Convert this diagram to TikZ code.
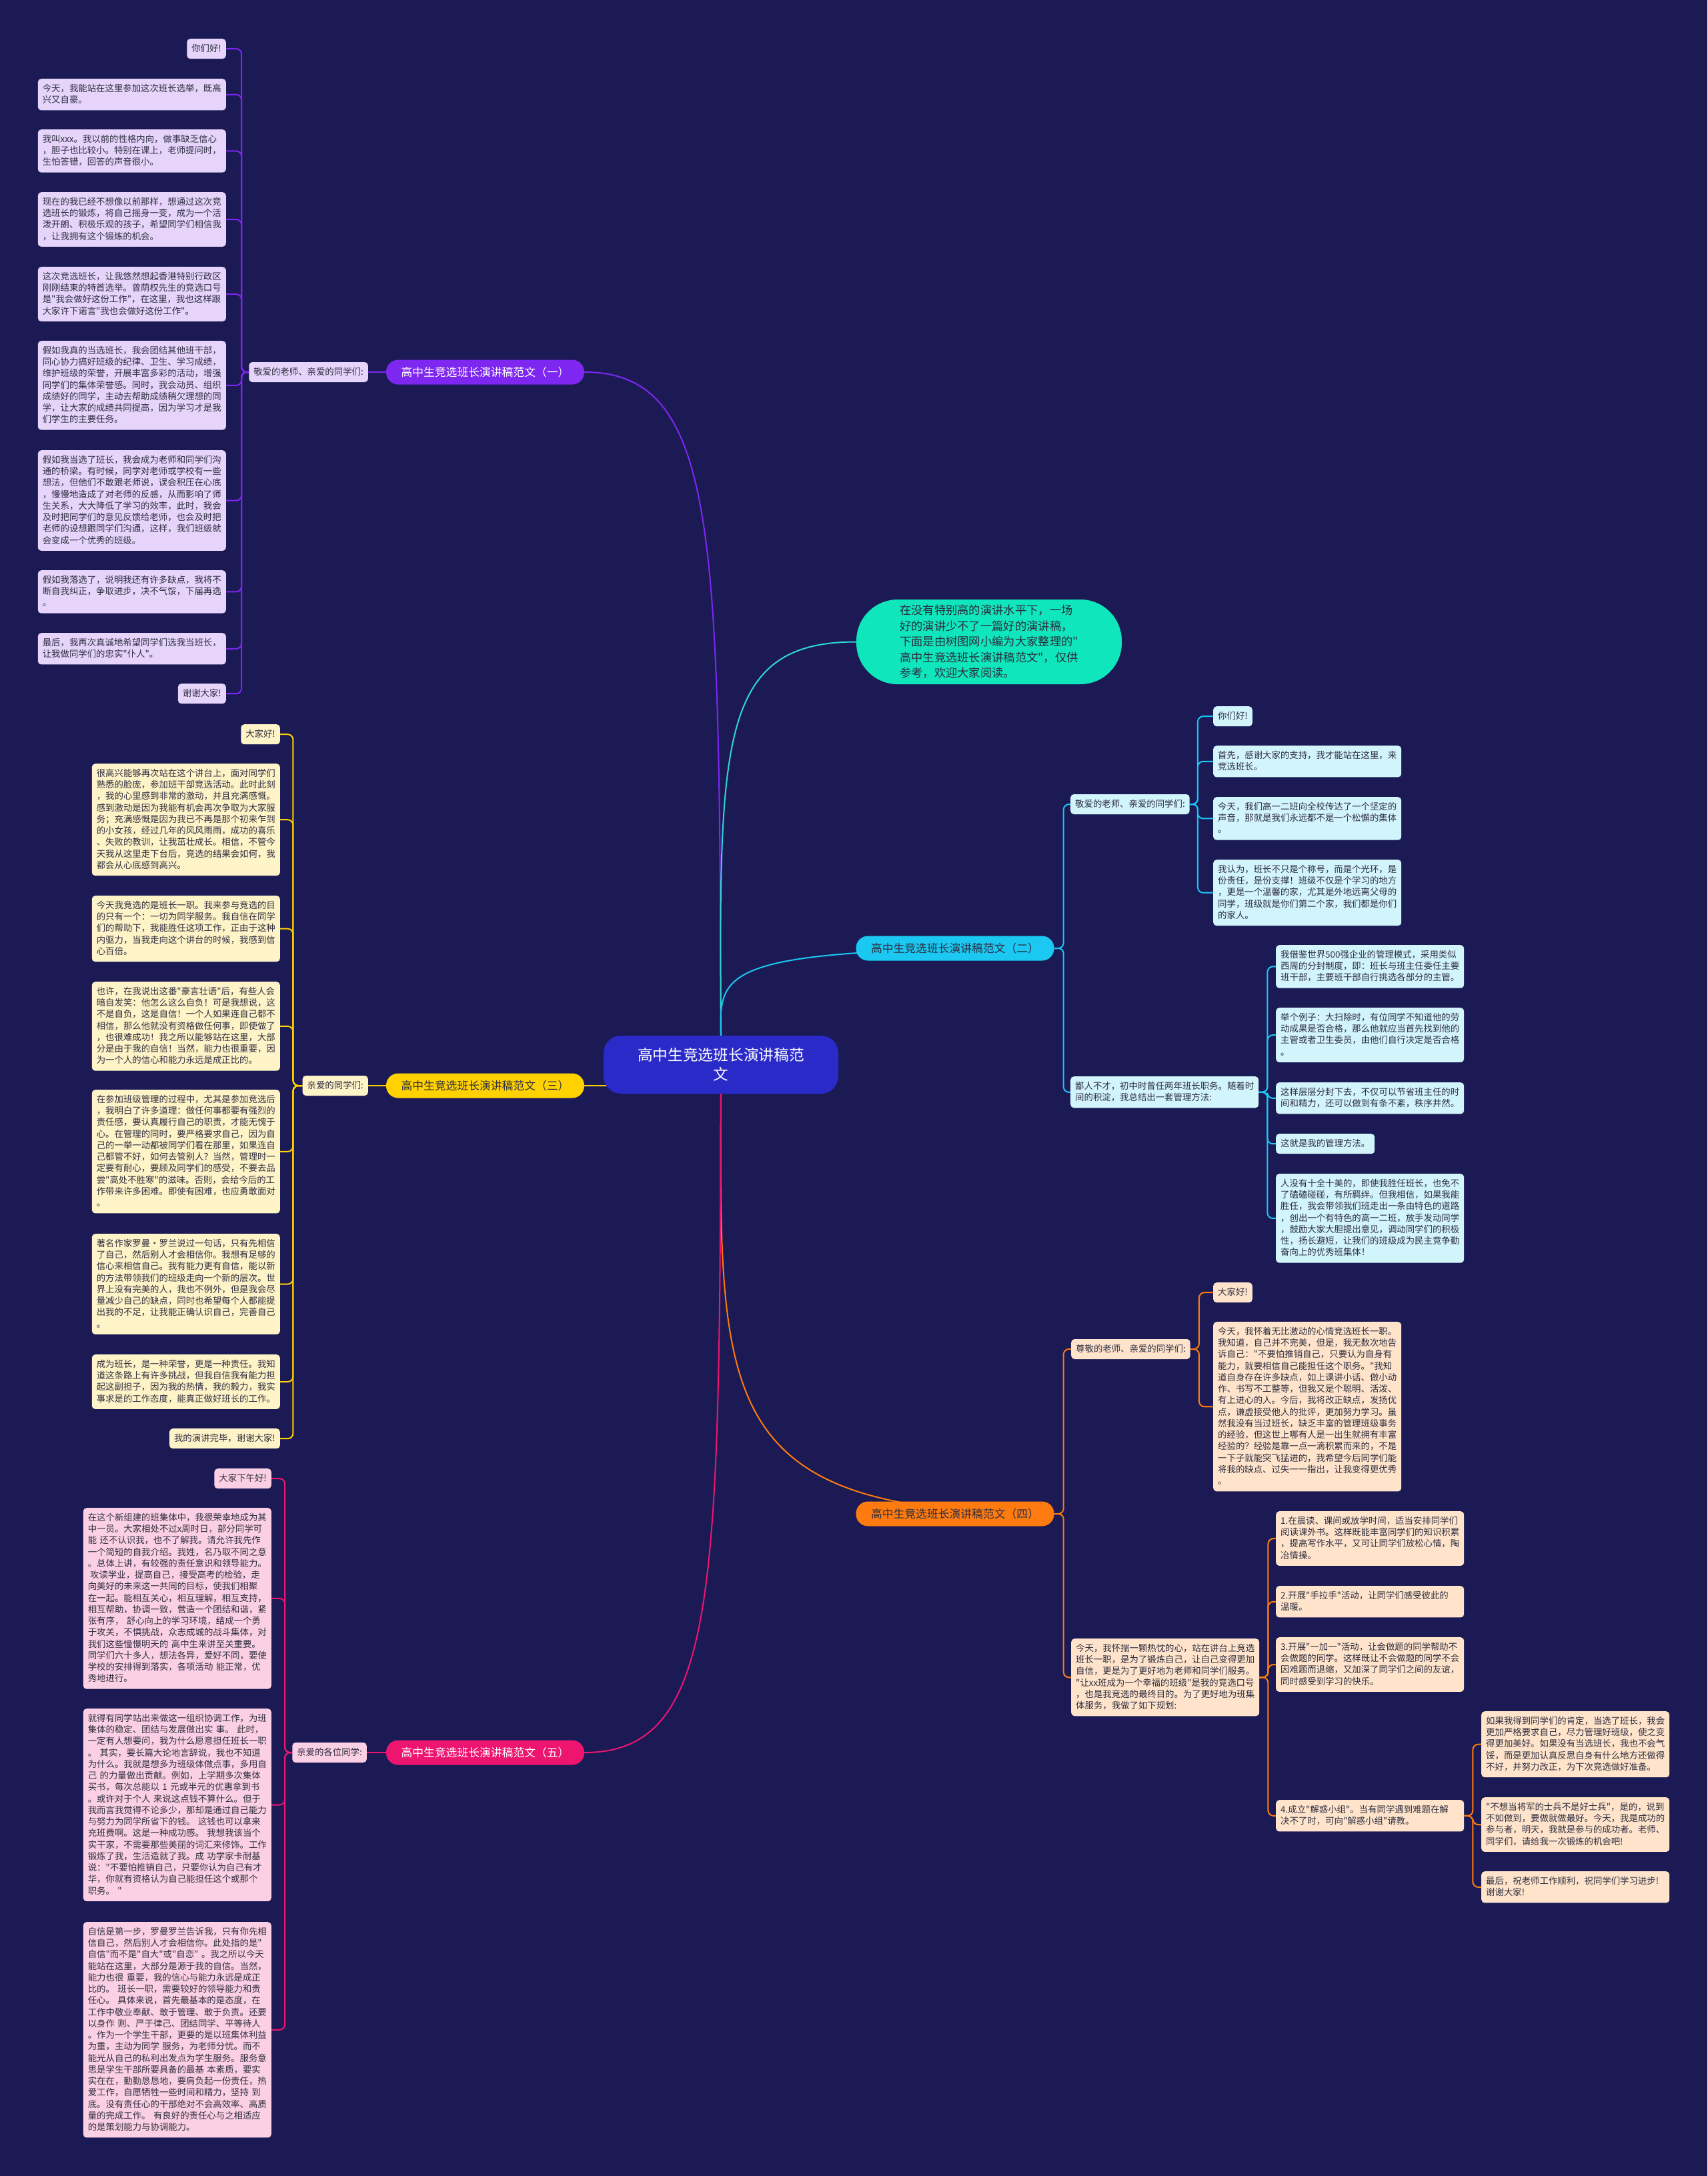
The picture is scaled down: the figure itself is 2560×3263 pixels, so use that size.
\documentclass[tikz,border=0pt]{standalone}
\usepackage{fontspec}
\newfontfamily\cjk{Noto Sans CJK SC}
\usetikzlibrary{backgrounds}
\definecolor{bgc}{HTML}{1B1A55}
\definecolor{tdark}{HTML}{2E2E40}
\definecolor{rootc}{HTML}{2A2AC8}
\definecolor{mint}{HTML}{0FE6BB}
\definecolor{mintl}{HTML}{2FD8D0}
\definecolor{cpa}{HTML}{7D27F0}
\definecolor{cpl}{HTML}{E6D4FA}
\definecolor{cya}{HTML}{1BC8F2}
\definecolor{cyl}{HTML}{D2F4FB}
\definecolor{yea}{HTML}{FFD200}
\definecolor{yel}{HTML}{FFF3C8}
\definecolor{ora}{HTML}{FF7B0F}
\definecolor{orl}{HTML}{FFE4CB}
\definecolor{pka}{HTML}{EE1570}
\definecolor{pkl}{HTML}{FCD0E4}
\newcommand\lfont{\cjk\fontsize{13.4}{17.25}\selectfont}
\newcommand\bfont{\cjk\fontsize{16.8}{20}\selectfont}
\newcommand\rfont{\cjk\fontsize{22.7}{29}\selectfont}
\newcommand\ifont{\cjk\fontsize{17.3}{23.5}\selectfont}
\tikzset{
  box/.style={fill=#1, rounded corners=5pt, align=left, inner xsep=7pt, inner ysep=7.75pt,
    font=\lfont, text=tdark,
    execute at begin node={\noindent\rule{0pt}{11.5pt}},
    execute at end node={\rule[-3pt]{0pt}{3pt}}},
  wbox/.style={box=#1, text width=268pt},
  conn/.style={draw=#1, line width=2pt, rounded corners=8pt},
  br/.style={fill=#1, rounded corners=18pt, minimum width=297pt, minimum height=37pt,
    inner xsep=4pt, inner ysep=0pt, font=\bfont},
}
\begin{document}
\begin{tikzpicture}[x=1pt,y=-1pt]
\useasboundingbox (0,0) rectangle (2560,3263);

% ---------- root and intro ----------
\node[fill=rootc, rounded corners=26pt, minimum width=352pt, minimum height=87pt,
  text=white, font=\rfont, align=center, inner sep=0pt] (root) at (1081,1596.5)
  {高中生竞选班长演讲稿范\\文};
\node[fill=mint, rounded corners=62pt, minimum width=398pt, minimum height=127pt,
  align=left, font=\ifont, text=tdark, inner sep=0pt] (intro) at (1483,962.5)
  {在没有特别高的演讲水平下，一场\\好的演讲少不了一篇好的演讲稿，\\下面是由树图网小编为大家整理的"\\高中生竞选班长演讲稿范文"，仅供\\参考，欢迎大家阅读。};

% ---------- branch 1 ----------
\node[br=cpa, text=white] (b1) at (727.5,558) {高中生竞选班长演讲稿范文（一）};
\node[box=cpl, anchor=east] (l1) at (552,558) {敬爱的老师、亲爱的同学们:};
\node[box=cpl, anchor=north east] (a1) at (339,58) {你们好!};
\node[wbox=cpl, anchor=north east] (a2) at (339,118) {今天，我能站在这里参加这次班长选举，既高\\兴又自豪。};
\node[wbox=cpl, anchor=north east] (a3) at (339,194) {我叫xxx。我以前的性格内向，做事缺乏信心\\，胆子也比较小。特别在课上，老师提问时，\\生怕答错，回答的声音很小。};
\node[wbox=cpl, anchor=north east] (a4) at (339,288) {现在的我已经不想像以前那样，想通过这次竞\\选班长的锻炼，将自己摇身一变，成为一个活\\泼开朗、积极乐观的孩子，希望同学们相信我\\，让我拥有这个锻炼的机会。};
\node[wbox=cpl, anchor=north east] (a5) at (339,400) {这次竞选班长，让我悠然想起香港特别行政区\\刚刚结束的特首选举。曾荫权先生的竞选口号\\是"我会做好这份工作"，在这里，我也这样跟\\大家许下诺言"我也会做好这份工作"。};
\node[wbox=cpl, anchor=north east] (a6) at (339,511) {假如我真的当选班长，我会团结其他班干部，\\同心协力搞好班级的纪律、卫生、学习成绩，\\维护班级的荣誉，开展丰富多彩的活动，增强\\同学们的集体荣誉感。同时，我会动员、组织\\成绩好的同学，主动去帮助成绩稍欠理想的同\\学，让大家的成绩共同提高，因为学习才是我\\们学生的主要任务。};
\node[wbox=cpl, anchor=north east] (a7) at (339,675) {假如我当选了班长，我会成为老师和同学们沟\\通的桥梁。有时候，同学对老师或学校有一些\\想法，但他们不敢跟老师说，误会积压在心底\\，慢慢地造成了对老师的反感，从而影响了师\\生关系，大大降低了学习的效率，此时，我会\\及时把同学们的意见反馈给老师，也会及时把\\老师的设想跟同学们沟通，这样，我们班级就\\会变成一个优秀的班级。};
\node[wbox=cpl, anchor=north east] (a8) at (339,855) {假如我落选了，说明我还有许多缺点，我将不\\断自我纠正，争取进步，决不气馁，下届再选\\。};
\node[wbox=cpl, anchor=north east] (a9) at (339,949) {最后，我再次真诚地希望同学们选我当班长，\\让我做同学们的忠实"仆人"。};
\node[box=cpl, anchor=north east] (a10) at (339,1025) {谢谢大家!};

% ---------- branch 3 ----------
\node[br=yea, text=tdark] (b3) at (727.5,1628) {高中生竞选班长演讲稿范文（三）};
\node[box=yel, anchor=east] (l3) at (552,1628) {亲爱的同学们:};
\node[box=yel, anchor=north east] (c1) at (420,1086) {大家好!};
\node[wbox=yel, anchor=north east] (c2) at (420,1145) {很高兴能够再次站在这个讲台上，面对同学们\\熟悉的脸庞，参加班干部竞选活动。此时此刻\\，我的心里感到非常的激动，并且充满感慨。\\感到激动是因为我能有机会再次争取为大家服\\务；充满感慨是因为我已不再是那个初来乍到\\的小女孩，经过几年的风风雨雨，成功的喜乐\\、失败的教训，让我茁壮成长。相信，不管今\\天我从这里走下台后，竞选的结果会如何，我\\都会从心底感到高兴。};
\node[wbox=yel, anchor=north east] (c3) at (420,1343) {今天我竞选的是班长一职。我来参与竞选的目\\的只有一个：一切为同学服务。我自信在同学\\们的帮助下，我能胜任这项工作，正由于这种\\内驱力，当我走向这个讲台的时候，我感到信\\心百倍。};
\node[wbox=yel, anchor=north east] (c4) at (420,1472) {也许，在我说出这番"豪言壮语"后，有些人会\\暗自发笑：他怎么这么自负！可是我想说，这\\不是自负，这是自信！一个人如果连自己都不\\相信，那么他就没有资格做任何事，即使做了\\，也很难成功！我之所以能够站在这里，大部\\分是由于我的自信！当然，能力也很重要，因\\为一个人的信心和能力永远是成正比的。};
\node[wbox=yel, anchor=north east] (c5) at (420,1634) {在参加班级管理的过程中，尤其是参加竞选后\\，我明白了许多道理：做任何事都要有强烈的\\责任感，要认真履行自己的职责，才能无愧于\\心。在管理的同时，要严格要求自己，因为自\\己的一举一动都被同学们看在那里，如果连自\\己都管不好，如何去管别人？当然，管理时一\\定要有耐心，要顾及同学们的感受，不要去品\\尝"高处不胜寒"的滋味。否则，会给今后的工\\作带来许多困难。即使有困难，也应勇敢面对\\。};
\node[wbox=yel, anchor=north east] (c6) at (420,1850) {著名作家罗曼·罗兰说过一句话，只有先相信\\了自己，然后别人才会相信你。我想有足够的\\信心来相信自己。我有能力更有自信，能以新\\的方法带领我们的班级走向一个新的层次。世\\界上没有完美的人，我也不例外，但是我会尽\\量减少自己的缺点，同时也希望每个人都能提\\出我的不足，让我能正确认识自己，完善自己\\。};
\node[wbox=yel, anchor=north east] (c7) at (420,2031) {成为班长，是一种荣誉，更是一种责任。我知\\道这条路上有许多挑战，但我自信我有能力担\\起这副担子，因为我的热情，我的毅力，我实\\事求是的工作态度，能真正做好班长的工作。};
\node[box=yel, anchor=north east] (c8) at (420,2142) {我的演讲完毕，谢谢大家!};

% ---------- branch 5 ----------
\node[br=pka, text=white] (b5) at (727.5,2628) {高中生竞选班长演讲稿范文（五）};
\node[box=pkl, anchor=east] (l5) at (550,2628) {亲爱的各位同学:};
\node[box=pkl, anchor=north east] (f1) at (407,2202) {大家下午好!};
\node[wbox=pkl, anchor=north east] (f2) at (407,2261) {在这个新组建的班集体中，我很荣幸地成为其\\中一员。大家相处不过x周时日，部分同学可\\能~还不认识我，也不了解我。请允许我先作\\一个简短的自我介绍。我姓，名乃取不同之意\\。总体上讲，有较强的责任意识和领导能力。\\\hspace*{0.25em}攻读学业，提高自己，接受高考的检验，走\\向美好的未来这一共同的目标，使我们相聚\\在一起。能相互关心，相互理解，相互支持，\\相互帮助，协调一致，营造一个团结和谐，紧\\张有序，~舒心向上的学习环境，结成一个勇\\于攻关，不惧挑战，众志成城的战斗集体，对\\我们这些憧憬明天的~高中生来讲至关重要。\\同学们六十多人，想法各异，爱好不同，要使\\学校的安排得到落实，各项活动~能正常，优\\秀地进行。};
\node[wbox=pkl, anchor=north east] (f3) at (407,2562) {就得有同学站出来做这一组织协调工作，为班\\集体的稳定、团结与发展做出实~事。~此时，\\一定有人想要问，我为什么愿意担任班长一职\\。~其实，要长篇大论地言辞说，我也不知道\\为什么。我就是想多为班级体做点事，多用自\\己~的力量做出贡献。例如，上学期多次集体\\买书，每次总能以~1~元或半元的优惠拿到书\\。或许对于个人~来说这点钱不算什么。但于\\我而言我觉得不论多少，那却是通过自己能力\\与努力为同学所省下的钱。~这钱也可以拿来\\充班费啊。这是一种成功感。~我想我该当个\\实干家，不需要那些美丽的词汇来修饰。工作\\锻炼了我，生活造就了我。成~功学家卡耐基\\说："不要怕推销自己，只要你认为自己有才\\华，你就有资格认为自己能担任这个或那个\\职务。~"};
\node[wbox=pkl, anchor=north east] (f4) at (407,2882) {自信是第一步，罗曼罗兰告诉我，只有你先相\\信自己，然后别人才会相信你。此处指的是"\\自信"而不是"自大"或"自恋"~。我之所以今天\\能站在这里，大部分是源于我的自信。当然，\\能力也很~重要，我的信心与能力永远是成正\\比的。~班长一职，需要较好的领导能力和责\\任心。~具体来说，首先最基本的是态度，在\\工作中敬业奉献、敢于管理、敢于负责。还要\\以身作~则、严于律己、团结同学、平等待人\\。作为一个学生干部，更要的是以班集体利益\\为重，主动为同学~服务，为老师分忧。而不\\能光从自己的私利出发点为学生服务。服务意\\思是学生干部所要具备的最基~本素质，要实\\实在在，勤勤恳恳地，要肩负起一份责任，热\\爱工作，自愿牺牲一些时间和精力，坚持~到\\底。没有责任心的干部绝对不会高效率、高质\\量的完成工作。~有良好的责任心与之相适应\\的是策划能力与协调能力。};

% ---------- branch 2 ----------
\node[br=cya, text=tdark] (b2) at (1432,1422) {高中生竞选班长演讲稿范文（二）};
\node[box=cyl, anchor=west] (s21) at (1605,1206) {敬爱的老师、亲爱的同学们:};
\node[box=cyl, anchor=north west] (s22) at (1605,1614) {鄙人不才，初中时曾任两年班长职务。随着时\\间的积淀，我总结出一套管理方法:};
\node[box=cyl, anchor=north west] (d1) at (1819,1059) {你们好!};
\node[wbox=cyl, anchor=north west] (d2) at (1819,1118) {首先，感谢大家的支持，我才能站在这里，来\\竞选班长。};
\node[wbox=cyl, anchor=north west] (d3) at (1819,1195) {今天，我们高一二班向全校传达了一个坚定的\\声音，那就是我们永远都不是一个松懈的集体\\。};
\node[wbox=cyl, anchor=north west] (d4) at (1819,1289) {我认为，班长不只是个称号，而是个光环，是\\份责任，是份支撑！班级不仅是个学习的地方\\，更是一个温馨的家，尤其是外地远离父母的\\同学，班级就是你们第二个家，我们都是你们\\的家人。};
\node[wbox=cyl, anchor=north west] (e1) at (1913,1417) {我借鉴世界500强企业的管理模式，采用类似\\西周的分封制度，即：班长与班主任委任主要\\班干部，主要班干部自行挑选各部分的主管。};
\node[wbox=cyl, anchor=north west] (e2) at (1913,1511) {举个例子：大扫除时，有位同学不知道他的劳\\动成果是否合格，那么他就应当首先找到他的\\主管或者卫生委员，由他们自行决定是否合格\\。};
\node[wbox=cyl, anchor=north west] (e3) at (1913,1623) {这样层层分封下去，不仅可以节省班主任的时\\间和精力，还可以做到有条不紊，秩序井然。};
\node[box=cyl, anchor=north west] (e4) at (1913,1700) {这就是我的管理方法。};
\node[wbox=cyl, anchor=north west] (e5) at (1913,1760) {人没有十全十美的，即使我胜任班长，也免不\\了磕磕碰碰，有所羁绊。但我相信，如果我能\\胜任，我会带领我们班走出一条由特色的道路\\，创出一个有特色的高一二班，放手发动同学\\，鼓励大家大胆提出意见，调动同学们的积极\\性，扬长避短，让我们的班级成为民主竞争勤\\奋向上的优秀班集体！};

% ---------- branch 4 ----------
\node[br=ora, text=tdark] (b4) at (1432,2270) {高中生竞选班长演讲稿范文（四）};
\node[box=orl, anchor=west] (s41) at (1606,2023) {尊敬的老师、亲爱的同学们:};
\node[box=orl, anchor=north west] (s42) at (1606,2457) {今天，我怀揣一颗热忱的心，站在讲台上竞选\\班长一职，是为了锻炼自己，让自己变得更加\\自信，更是为了更好地为老师和同学们服务。\\"让xx班成为一个幸福的班级"是我的竞选口号\\，也是我竞选的最终目的。为了更好地为班集\\体服务，我做了如下规划:};
\node[box=orl, anchor=north west] (g0) at (1819,1923) {大家好!};
\node[wbox=orl, anchor=north west] (g00) at (1819,1982) {今天，我怀着无比激动的心情竞选班长一职。\\我知道，自己并不完美，但是，我无数次地告\\诉自己："不要怕推销自己，只要认为自身有\\能力，就要相信自己能担任这个职务。"我知\\道自身存在许多缺点，如上课讲小话、做小动\\作、书写不工整等，但我又是个聪明、活泼、\\有上进心的人。今后，我将改正缺点，发扬优\\点，谦虚接受他人的批评，更加努力学习。虽\\然我没有当过班长，缺乏丰富的管理班级事务\\的经验，但这世上哪有人是一出生就拥有丰富\\经验的？经验是靠一点一滴积累而来的，不是\\一下子就能突飞猛进的，我希望今后同学们能\\将我的缺点、过失一一指出，让我变得更优秀\\。};
\node[wbox=orl, anchor=north west] (g1) at (1913,2266) {1.在晨读、课间或放学时间，适当安排同学们\\阅读课外书。这样既能丰富同学们的知识积累\\，提高写作水平，又可让同学们放松心情，陶\\冶情操。};
\node[wbox=orl, anchor=north west] (g2) at (1913,2378) {2.开展"手拉手"活动，让同学们感受彼此的\\温暖。};
\node[wbox=orl, anchor=north west] (g3) at (1913,2455) {3.开展"一加一"活动，让会做题的同学帮助不\\会做题的同学。这样既让不会做题的同学不会\\因难题而退缩，又加深了同学们之间的友谊，\\同时感受到学习的快乐。};
\node[wbox=orl, anchor=north west] (g4) at (1913,2699) {4.成立"解惑小组"。当有同学遇到难题在解\\决不了时，可向"解惑小组"请教。};
\node[wbox=orl, anchor=north west] (h1) at (2221,2566) {如果我得到同学们的肯定，当选了班长，我会\\更加严格要求自己，尽力管理好班级，使之变\\得更加美好。如果没有当选班长，我也不会气\\馁，而是更加认真反思自身有什么地方还做得\\不好，并努力改正，为下次竞选做好准备。};
\node[wbox=orl, anchor=north west] (h2) at (2221,2695) {"不想当将军的士兵不是好士兵"，是的，说到\\不如做到，要做就做最好。今天，我是成功的\\参与者，明天，我就是参与的成功者。老师、\\同学们，请给我一次锻炼的机会吧!};
\node[wbox=orl, anchor=north west] (h3) at (2221,2806) {最后，祝老师工作顺利，祝同学们学习进步!\\谢谢大家!};

% ---------- connectors ----------
\begin{scope}[on background layer]
\fill[bgc] (0,0) rectangle (2560,3263);
\draw[conn=cpa] (root.north) .. controls (1078,807) and (1078,558) .. (b1.east);
\draw[conn=mintl] (root.north) .. controls (1078,1110) and (1078,962.5) .. (intro.west);
\draw[conn=cya] (root.north) .. controls (1078,1455) and (1078,1422) .. (b2.east);
\draw[conn=yea] (root.center |- b3.east) -- (b3.east);
\draw[conn=ora] (root.south) .. controls (1078,2112) and (1078,2270) .. (b4.east);
\draw[conn=pka] (root.south) .. controls (1078,2381) and (1078,2628) .. (b5.east);
% branch 1
\draw[conn=cpa] (b1.west) -- (l1.east);
\foreach \n in {a1,a2,a3,a4,a5,a6,a7,a8,a9,a10}
  \draw[conn=cpa] (l1.west) -- ++(-11,0) |- (\n.east);
% branch 3
\draw[conn=yea] (b3.west) -- (l3.east);
\foreach \n in {c1,c2,c3,c4,c5,c6,c7,c8}
  \draw[conn=yea] (l3.west) -- ++(-14,0) |- (\n.east);
% branch 5
\draw[conn=pka] (b5.west) -- (l5.east);
\foreach \n in {f1,f2,f3,f4}
  \draw[conn=pka] (l5.west) -- ++(-11,0) |- (\n.east);
% branch 2
\foreach \n in {s21,s22}
  \draw[conn=cya] (b2.east) -- ++(14,0) |- (\n.west);
\foreach \n in {d1,d2,d3,d4}
  \draw[conn=cya] (s21.east) -- ++(12,0) |- (\n.west);
\foreach \n in {e1,e2,e3,e4,e5}
  \draw[conn=cya] (s22.east) -- ++(13,0) |- (\n.west);
% branch 4
\foreach \n in {s41,s42}
  \draw[conn=ora] (b4.east) -- ++(14,0) |- (\n.west);
\foreach \n in {g0,g00}
  \draw[conn=ora] (s41.east) -- ++(13,0) |- (\n.west);
\foreach \n in {g1,g2,g3,g4}
  \draw[conn=ora] (s42.east) -- ++(13,0) |- (\n.west);
\foreach \n in {h1,h2,h3}
  \draw[conn=ora] (g4.east) -- ++(13,0) |- (\n.west);
\end{scope}
\end{tikzpicture}
\end{document}
